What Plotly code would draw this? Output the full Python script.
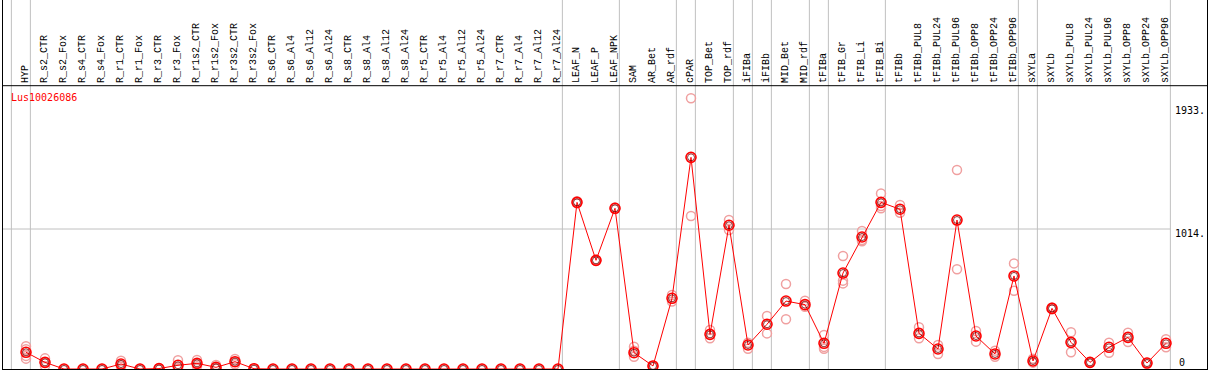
import plotly.graph_objects as go

categories = ["HYP", "R_s2_CTR", "R_s2_Fox", "R_s4_CTR", "R_s4_Fox", "R_r1_CTR", "R_r1_Fox",
              "R_r3_CTR", "R_r3_Fox", "R_r1s2_CTR", "R_r1s2_Fox", "R_r3s2_CTR", "R_r3s2_Fox",
              "R_s6_CTR", "R_s6_Al4", "R_s6_Al12", "R_s6_Al24", "R_s8_CTR", "R_s8_Al4",
              "R_s8_Al12", "R_s8_Al24", "R_r5_CTR", "R_r5_Al4", "R_r5_Al12", "R_r5_Al24",
              "R_r7_CTR", "R_r7_Al4", "R_r7_Al12", "R_r7_Al24", "LEAF_N", "LEAF_P", "LEAF_NPK",
              "SAM", "AR_Bet", "AR_rdf", "cPAR", "TOP_Bet", "TOP_rdf", "iFIBa", "iFIBb",
              "MID_Bet", "MID_rdf", "tFIBa", "tFIB_Gr", "tFIB_Li", "tFIB_Bi", "tFIBb",
              "tFIBb_PUL8", "tFIBb_PUL24", "tFIBb_PUL96", "tFIBb_OPP8", "tFIBb_OPP24",
              "tFIBb_OPP96", "sXYLa", "sXYLb", "sXYLb_PUL8", "sXYLb_PUL24", "sXYLb_PUL96",
              "sXYLb_OPP8", "sXYLb_OPP24", "sXYLb_OPP96"]

mean_values = [121, 48, 0, 0, 0, 36, 0, 3, 27, 41, 12, 53, 2,
               0, 0, 0, 0, 0, 0, 0, 0, 0, 0, 0, 0, 0, 0, 0, 0,
               1207, 787, 1164, 118, 22, 512, 1533, 251, 1041, 174, 324,
               492, 466, 186, 695, 956, 1207, 1157, 258, 145, 1079, 239, 109,
               674, 58, 439, 193, 48, 157, 229, 43, 186]

rep_1 = [165, 77, 0, 0, 0, 60, 0, 5, 63, 65, 29, 72, 4,
         0, 0, 0, 0, 0, 0, 0, 0, 0, 0, 0, 0, 0, 0, 0, 0,
         1215, 790, 1170, 162, 24, 536, 1961, 282, 1079, 191, 384,
         616, 495, 246, 818, 999, 1272, 1188, 302, 174, 1441, 275, 133,
         765, 75, 445, 266, 50, 191, 263, 45, 215]

rep_2 = [143, 45, 0, 0, 0, 30, 0, 2, 12, 38, 5, 52, 1,
         0, 0, 0, 0, 0, 0, 0, 0, 0, 0, 0, 0, 0, 0, 0, 0,
         1200, 784, 1158, 133, 20, 488, 1108, 222, 1007, 147, 258,
         360, 451, 147, 640, 934, 1164, 1132, 222, 109, 722, 198, 89,
         567, 46, 433, 121, 46, 118, 196, 40, 157]

rep_3 = [95, 22, None, None, None, 17, None, None, 5, 20, 2, 34, None,
         None, None, None, None, None, None, None, None, None, None, None, None, None, None, None, None,
         None, None, None, 89, None, None, None, None, None, None, None,
         None, None, 160, 620, 925, 1180, None, None, None, None, None, None,
         None, None, None, None, None, None, None, None, None]

rep_4 = [75] + [None] * 60

separators_after = [-1, 0, 28, 31, 34, 35, 37, 38, 39, 41, 42, 45, 52, 53, 60]
tick_labels = ["1933.", "1014.", "0"]
gene_name = "Lus10026086"

# pixel geometry helpers (layout only)
K = 140.0 / 1014.0          # px per unit
Y_BOTTOM_PX = 369.0
def v_of(py):
    return (Y_BOTTOM_PX - py) / K

X0 = (3 - 26) / 19.0
X1 = (1207 - 26) / 19.0
YTOP = v_of(0)

xs = list(range(len(categories)))
FONT = "DejaVu Sans Mono"
LABEL_FONT = "Liberation Mono"

fig = go.Figure()
pink = "#f0a0a0"
for reps in (rep_1, rep_2, rep_3, rep_4):
    fig.add_trace(go.Scatter(x=xs, y=reps, mode="markers",
                             marker=dict(symbol="circle-open", size=9, color=pink,
                                         line=dict(width=1.5, color=pink)),
                             hoverinfo="skip", showlegend=False))

fig.add_trace(go.Scatter(x=xs, y=mean_values, mode="lines",
                         line=dict(color="red", width=1), showlegend=False))
fig.add_trace(go.Scatter(x=xs, y=mean_values, mode="markers",
                         marker=dict(symbol="circle-open", size=10, color="red",
                                     line=dict(width=1.6, color="red")),
                         showlegend=False))
fig.add_trace(go.Scatter(x=xs, y=mean_values, mode="markers",
                         marker=dict(symbol="circle-open", size=7, color="#700000",
                                     line=dict(width=0.8, color="#700000")),
                         showlegend=False))

shapes = []
for s in separators_after:
    xv = s + 0.23
    shapes.append(dict(type="line", xref="x", yref="paper", x0=xv, x1=xv, y0=0, y1=1,
                       line=dict(color="#c0c0c0", width=1), layer="below"))
shapes.append(dict(type="line", xref="x", yref="y", x0=X0, x1=60.23, y0=1014, y1=1014,
                   line=dict(color="#c0c0c0", width=1), layer="below"))
shapes.append(dict(type="line", xref="x", yref="y", x0=X0, x1=X1, y0=v_of(85.7), y1=v_of(85.7),
                   line=dict(color="black", width=1)))

annotations = []
for i, c in enumerate(categories):
    annotations.append(dict(x=i - 0.05, y=v_of(84), xref="x", yref="y", text=c, showarrow=False,
                            textangle=-90, xanchor="center", yanchor="bottom",
                            font=dict(family=LABEL_FONT, size=10, color="black"), borderpad=0))
annotations.append(dict(x=(10 - 26) / 19.0, y=v_of(97.7), xref="x", yref="y", text=gene_name,
                        showarrow=False, xanchor="left", yanchor="middle",
                        font=dict(family=FONT, size=10, color="red"), borderpad=0))
tick_pos = [(1173.5, 110.5), (1173.5, 233), (1178, 362)]
for t, (px, py) in zip(tick_labels, tick_pos):
    annotations.append(dict(x=(px - 26) / 19.0, y=v_of(py), xref="x", yref="y", text=t,
                            showarrow=False, xanchor="left", yanchor="middle",
                            font=dict(family=FONT, size=10, color="black"), borderpad=0))

fig.update_layout(
    width=1209, height=370,
    margin=dict(l=3, r=2, t=0, b=1, pad=0),
    plot_bgcolor="white", paper_bgcolor="white",
    xaxis=dict(range=[X0, X1], showgrid=False, zeroline=False, showticklabels=False,
               showline=True, mirror=True, linecolor="black", linewidth=1, ticks=""),
    yaxis=dict(range=[0, YTOP], showgrid=False, zeroline=False, showticklabels=False,
               showline=True, mirror=True, linecolor="black", linewidth=1, ticks=""),
    shapes=shapes, annotations=annotations, showlegend=False,
)

fig.write_html("out.html", config={"displayModeBar": False},
               post_script="document.body.style.margin='0';document.body.style.overflow='hidden';")
